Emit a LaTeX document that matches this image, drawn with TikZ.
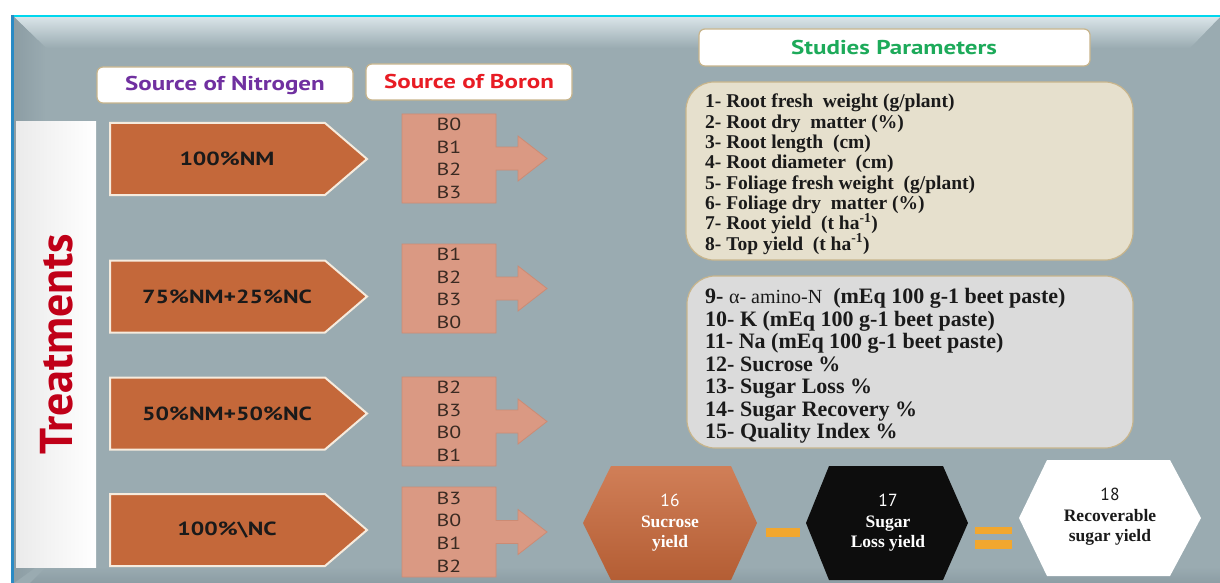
\documentclass[tikz,border=0pt]{standalone}
\usepackage{fontspec}
\setmainfont{Liberation Serif}
\newfontfamily\gillfont{PT Sans}
\newfontfamily\gillwide{PT Sans}[FakeStretch=1.25]
\definecolor{bg}{HTML}{9AABB1}
\definecolor{bglight}{HTML}{D9E4E8}
\definecolor{bgdark}{HTML}{8C9DA4}
\definecolor{chevor}{HTML}{C4683A}
\definecolor{chevedge}{HTML}{F6EBDD}
\definecolor{boronfill}{HTML}{DA9983}
\definecolor{boronedge}{HTML}{CC8B74}
\definecolor{boxA}{HTML}{E6E0CD}
\definecolor{boxB}{HTML}{DBDBDB}
\definecolor{boxedge}{HTML}{C8B58C}
\definecolor{purpletxt}{HTML}{7030A0}
\definecolor{redtxt}{HTML}{E81C24}
\definecolor{greentxt}{HTML}{1DAA5A}
\definecolor{treatred}{HTML}{C00018}
\definecolor{barcol}{HTML}{F2A72E}
\definecolor{hexor}{HTML}{C8683A}
\definecolor{txtdark}{HTML}{1A1A1A}
\definecolor{btext}{HTML}{3A2A22}
\definecolor{cyanline}{HTML}{00D7EE}
\definecolor{blueline}{HTML}{2A8AC4}
\tikzset{
  chev/.style={fill=chevor, draw=chevedge, line width=2pt, line join=miter},
  chevtxt/.style={font={\gillwide\bfseries\fontsize{19}{22}\selectfont}, text=txtdark, inner sep=0pt},
  boron/.style={fill=boronfill, draw=boronedge, line width=0.8pt},
  btxt/.style={font={\gillwide\fontsize{17.5}{22.6}\selectfont}, text=btext, align=center, inner sep=0pt},
  titlebox/.style={fill=white, draw=boxedge, line width=1.2pt, rounded corners=6pt},
  titletxt/.style={font={\gillwide\bfseries\fontsize{20}{24}\selectfont}, inner sep=0pt},
  parambox/.style={draw=boxedge, line width=1.2pt, rounded corners=28pt},
  ptxtA/.style={font={\bfseries\fontsize{19.5}{21}\selectfont}, text=txtdark, inner sep=0pt, anchor=base west},
  ptxtB/.style={font={\bfseries\fontsize{22}{23}\selectfont}, text=txtdark, inner sep=0pt, anchor=base west},
  hextxt/.style={font={\bfseries\fontsize{17.5}{20.5}\selectfont}, align=center, inner sep=0pt},
  bar/.style={fill=barcol, draw=none}
}
\begin{document}
\begin{tikzpicture}[x=1pt,y=-1pt]
\useasboundingbox (0,0) rectangle (1220,583);
\fill[white] (0,0) rectangle (1220,583);
% frame
\fill[bg] (11,15) rectangle (1220,583);
\shade[top color=bglight, bottom color=bg] (14,17) -- (1220,17) -- (1190,48) -- (46,48) -- cycle;
\shade[left color=bgdark, right color=bg] (14,17) -- (46,48) -- (46,560) -- (14,583) -- cycle;
\shade[top color=bg, bottom color=bgdark] (46,567) -- (1220,567) -- (1220,583) -- (30,583) -- cycle;
\draw[cyanline, line width=2pt] (11,16) -- (1220,16);
\draw[blueline, line width=3pt] (12.5,15) -- (12.5,583);
% Treatments panel
\shade[left color=black!8, right color=white] (16,122) rectangle (96,567);
\node[rotate=90, font={\gillfont\bfseries\fontsize{46}{50}\selectfont}, text=treatred, inner sep=0pt] (treat) at (57,344) {Treatments};
% titles
\draw[titlebox] (97,67) rectangle (353,103);
\node[titletxt, text=purpletxt] (tN) at (225,85) {Source of Nitrogen};
\draw[titlebox] (366,64) rectangle (572,100);
\node[titletxt, text=redtxt] (tB) at (469,82) {Source of Boron};
\draw[titlebox] (699,29) rectangle (1090,66);
\node[titletxt, text=greentxt] (tS) at (894,47.5) {Studies Parameters};
% chevrons
\foreach \c/\lab [count=\i] in {159/100\%NM, 296.5/75\%NM+25\%NC, 413.5/50\%NM+50\%NC, 530/100\%\textbackslash NC}{
  \draw[chev] (110,\c-36) -- (325,\c-36) -- (367,\c) -- (325,\c+36) -- (110,\c+36) -- cycle;
  \node[chevtxt] (n\i) at (227,\c) {\lab};
}
% boron boxes
\foreach \t/\b/\lab [count=\i] in {114/203/{B0\\B1\\B2\\B3}, 244/333/{B1\\B2\\B3\\B0}, 377/466/{B2\\B3\\B0\\B1}, 487/577/{B3\\B0\\B1\\B2}}{
  \pgfmathsetmacro{\m}{(\t+\b)/2}
  \draw[boron] (402,\t) -- (496,\t) -- (496,\m-11.5) -- (518,\m-11.5) -- (518,\m-22.5) -- (547,\m) -- (518,\m+22.5) -- (518,\m+11.5) -- (496,\m+11.5) -- (496,\b) -- (402,\b) -- cycle;
  \node[btxt] (b\i) at (449,\m) {\lab};
}
% parameter boxes
\draw[parambox, fill=boxA] (686,82) rectangle (1133,260);
\foreach \t [count=\i] in {1- Root fresh\ \ weight (g/plant), 2- Root dry\ \ matter (\%), 3- Root length\ \ (cm), 4- Root diameter\ \ (cm), 5- Foliage fresh weight\ \ (g/plant), 6- Foliage dry\ \ matter (\%), 7- Root yield\ \ (t ha\textsuperscript{-1}), 8- Top yield\ \ (t ha\textsuperscript{-1})}{
  \node[ptxtA] (pa\i) at (705,{108+(\i-1)*20.3}) {\t};
}
\draw[parambox, fill=boxB] (687,276) rectangle (1133,448);
\foreach \t [count=\i] in {9- {\mdseries\fontsize{20}{22}\selectfont α- amino-N}\ \ (mEq 100 g-1 beet paste), 10- K (mEq 100 g-1 beet paste), 11- Na (mEq 100 g-1 beet paste), 12- Sucrose \%, 13- Sugar Loss \%, 14- Sugar Recovery \%, 15- Quality Index \%}{
  \node[ptxtB] (pb\i) at (705,{303.5+(\i-1)*22.5}) {\t};
}
% hexagons
\shade[top color=hexor!85!white, bottom color=hexor!90!black] (583,523) -- (611,466) -- (731,466) -- (757,523) -- (731,580) -- (611,580) -- cycle;
\node[hextxt, text=white] (h16) at (670,523) {{\gillfont\mdseries 16}\\Sucrose\\yield};
\fill[bar] (766,528) rectangle (800,537);
\fill[black!95] (806,523) -- (829,466) -- (943,466) -- (968,523) -- (943,580) -- (829,580) -- cycle;
\node[hextxt, text=white] (h17) at (888,523) {{\gillfont\mdseries 17}\\Sugar\\Loss yield};
\fill[bar] (975,527) rectangle (1012,534);
\fill[bar] (975,540) rectangle (1012,549);
\fill[white] (1019,518) -- (1047,460) -- (1170,460) -- (1201,518) -- (1170,576) -- (1047,576) -- cycle;
\node[hextxt, text=txtdark] (h18) at (1110,517) {{\gillfont\mdseries 18}\\Recoverable\\sugar yield};
\end{tikzpicture}
\end{document}
